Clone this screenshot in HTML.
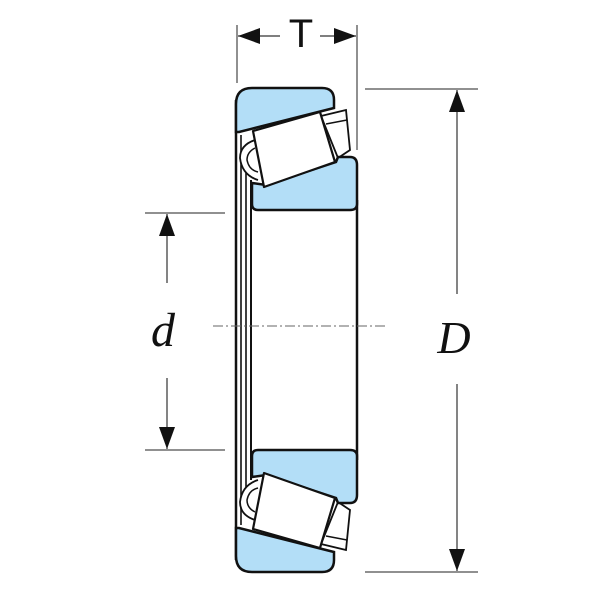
<!DOCTYPE html>
<html><head><style>html,body{margin:0;padding:0;background:#fff}svg{display:block}</style></head>
<body>
<svg width="600" height="600" viewBox="0 0 600 600" xmlns="http://www.w3.org/2000/svg">
<defs>
<g id="half">
  <path d="M236,104 Q236,88 252,88 L322,88 Q334,88 334,100 L334,108 L239,132 L236,132 Z" fill="#b3def7" stroke="#111" stroke-width="2.5"/>
  <path d="M321,116 L346,110 L350,150 L338,158 Z" fill="#fff" stroke="#111" stroke-width="1.8"/>
  <path d="M326,124 L347,120" stroke="#111" stroke-width="1.5"/>
  <path d="M252,183 L266,185 L336,162 L338,157 L350,157 Q357,157 357,165 L357,204 Q357,210 350,210 L258,210 Q252,210 252,204 Z" fill="#b3def7" stroke="#111" stroke-width="2.5"/>
  <path d="M255,140 Q240,145 240,158 Q242,175 258,180" fill="#fff" stroke="#111" stroke-width="1.8"/>
  <path d="M255,148 Q247,152 247,160 Q249,170 258,172" fill="none" stroke="#111" stroke-width="1.5"/>
  <path d="M253,131 L320,112 L335,162 L264,187 Z" fill="#fff" stroke="#111" stroke-width="2.2" stroke-linejoin="round"/>
</g>
<marker id="ah" viewBox="0 0 10 10" refX="10" refY="5" markerWidth="22" markerHeight="16" markerUnits="userSpaceOnUse" orient="auto" preserveAspectRatio="none"><path d="M0,0 L10,5 L0,10 Z" fill="#111"/></marker>
</defs>

<path d="M236,100 L236,560" stroke="#111" stroke-width="2.5"/>
<path d="M241,135 L241,525" stroke="#111" stroke-width="1.6"/>
<path d="M246,150 L246,510" stroke="#111" stroke-width="1.6"/>
<path d="M251,180 L251,480" stroke="#111" stroke-width="2"/>
<path d="M357,200 L357,460" stroke="#111" stroke-width="2.5"/>

<use href="#half"/>
<use href="#half" transform="translate(0,660) scale(1,-1)"/>

<path d="M213,326 L385,326" stroke="#666" stroke-width="1" stroke-dasharray="10,3,2,3"/>

<path d="M237,25 L237,83 M357,25 L357,150" stroke="#222" stroke-width="1"/>
<path d="M280,36 L238,36" stroke="#333" stroke-width="1.3" marker-end="url(#ah)"/>
<path d="M320,36 L356,36" stroke="#333" stroke-width="1.3" marker-end="url(#ah)"/>
<text x="301" y="47" font-family="Liberation Sans, sans-serif" font-size="40" text-anchor="middle" fill="#111">T</text>

<path d="M365,89 L478,89 M365,572 L478,572" stroke="#222" stroke-width="1"/>
<path d="M457,294 L457,90" stroke="#333" stroke-width="1.2" marker-end="url(#ah)"/>
<path d="M457,384 L457,571" stroke="#333" stroke-width="1.2" marker-end="url(#ah)"/>
<text x="454" y="353" font-family="Liberation Serif, serif" font-style="italic" font-size="46" text-anchor="middle" fill="#111">D</text>

<path d="M145,213 L225,213 M145,450 L225,450" stroke="#222" stroke-width="1"/>
<path d="M167,283 L167,214" stroke="#333" stroke-width="1.2" marker-end="url(#ah)"/>
<path d="M167,378 L167,449" stroke="#333" stroke-width="1.2" marker-end="url(#ah)"/>
<text x="163" y="346" font-family="Liberation Serif, serif" font-style="italic" font-size="48" text-anchor="middle" fill="#111">d</text>
</svg>
</body></html>
